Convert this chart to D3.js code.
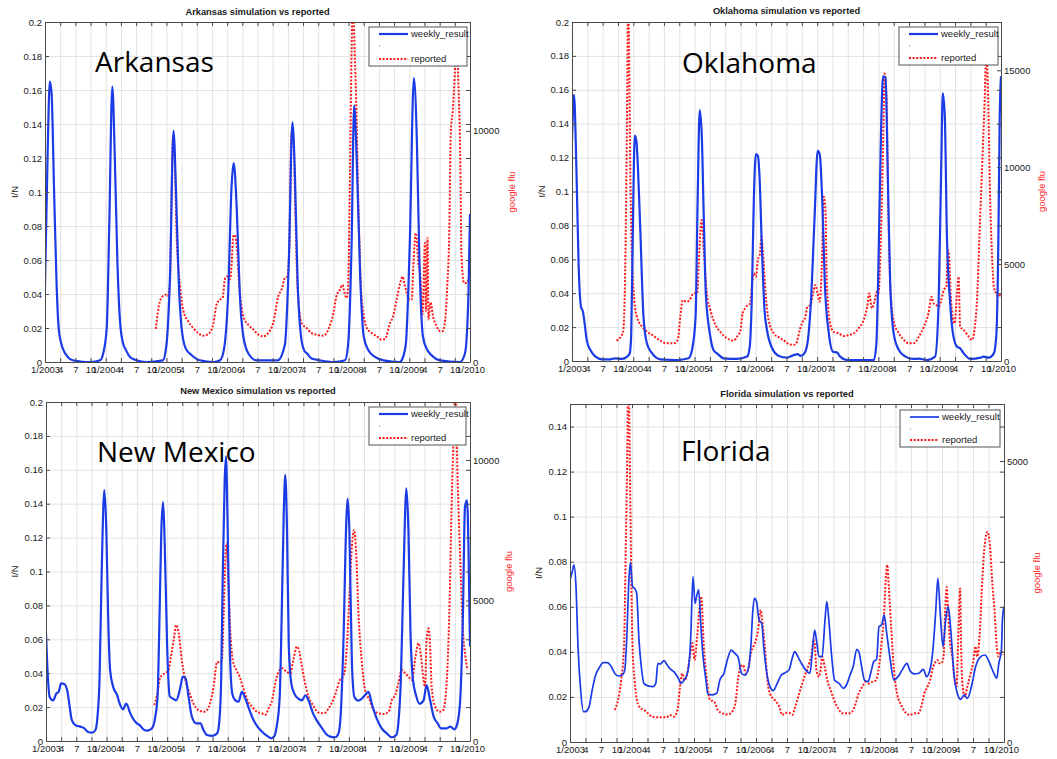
<!DOCTYPE html>
<html>
<head>
<meta charset="utf-8">
<script src="https://cdn.jsdelivr.net/npm/d3@7"></script>
<style>
  html, body { margin: 0; padding: 0; background: #fff; }
  svg { display: block; }
  text { font-family: "Liberation Sans", Arial, sans-serif; }
</style>
</head>
<body>
<svg id="chart" width="1057" height="759"></svg>
<script>
// ---- x axis: months since January 2003, quarterly ticks ----
const xTickMonths = [0,3,6,9,12,15,18,21,24,27,30,33,36,39,42,45,48,51,54,57,60,63,66,69,72,75,78,81,84];
const xTickLabels = ["1/2003","4","7","10","1/2004","4","7","10","1/2005","4","7","10","1/2006","4","7","10",
                     "1/2007","4","7","10","1/2008","4","7","10","1/2009","4","7","10","1/2010"];
const yTicksFull = [0,0.02,0.04,0.06,0.08,0.1,0.12,0.14,0.16,0.18,0.2];
const yTicksFlorida = [0,0.02,0.04,0.06,0.08,0.1,0.12,0.14];

// ---- simulated I/N (weekly_result): [month, value] ----
const arkansasSim = [[0,0.045],[0.5,0.12],[0.95,0.165],[1.3,0.158],[1.8,0.1],[2.3,0.045],[2.7,0.02],[3.2,0.011],[3.8,0.006],[4.5,0.003],[5.5,0.001],[7,0.0003],[9,0],[10.9,0.001],[11.5,0.005],[12.2,0.02],[12.7,0.08],[13.3,0.162],[13.8,0.12],[14.3,0.06],[14.8,0.025],[15.35,0.012],[16,0.007],[16.8,0.003],[18.1,0.001],[20,0],[23.3,0.001],[24,0.01],[24.7,0.05],[25.4,0.136],[25.9,0.1],[26.4,0.05],[27,0.02],[27.8,0.008],[29,0.004],[30.6,0.001],[33.3,0],[34.6,0.001],[35.4,0.008],[36.2,0.04],[36.9,0.105],[37.3,0.117],[37.9,0.09],[38.5,0.04],[39.2,0.015],[40.2,0.005],[41.8,0.001],[43.8,0.001],[46,0.001],[47.4,0.01],[48.2,0.06],[48.9,0.141],[49.4,0.11],[49.9,0.05],[50.6,0.015],[51.2,0.007],[51.8,0.005],[52.7,0.002],[54.3,0.001],[57,0],[59.3,0.001],[59.9,0.01],[60.6,0.07],[61.1,0.151],[61.6,0.12],[62.3,0.05],[63,0.015],[63.9,0.007],[65.2,0.003],[66.9,0.001],[70.2,0],[70.5,0.001],[71.3,0.01],[72.1,0.07],[72.9,0.167],[73.5,0.13],[74,0.06],[74.7,0.015],[75.4,0.008],[76.4,0.004],[78.1,0.001],[82,0],[83,0.005],[83.7,0.04],[84,0.087]];

const oklahomaSim = [[0,0.13],[0.4,0.157],[0.85,0.115],[1.3,0.056],[1.76,0.032],[2.15,0.029],[2.4,0.024],[2.9,0.012],[3.6,0.0065],[4.6,0.0026],[5.9,0.001],[7.5,0.001],[8.5,0.0016],[9.8,0.0012],[10.8,0.0026],[11.3,0.0045],[11.6,0.016],[11.9,0.075],[12.3,0.133],[12.6,0.13],[12.9,0.115],[13.4,0.075],[14,0.026],[14.7,0.01],[15.7,0.0045],[17.3,0.001],[20.6,0.0006],[22.8,0.0016],[23.5,0.0065],[24.2,0.026],[24.6,0.095],[25,0.148],[25.4,0.134],[25.8,0.085],[26.2,0.04],[27,0.016],[27.7,0.0065],[28.4,0.0045],[29.7,0.0016],[32.3,0.0012],[34.3,0.0026],[34.8,0.0084],[35.2,0.036],[35.6,0.095],[36,0.122],[36.4,0.121],[36.7,0.11],[37.2,0.065],[37.7,0.03],[38.2,0.018],[39.2,0.0075],[40.5,0.003],[42.1,0.002],[43.4,0.0035],[44.2,0.004],[44.8,0.003],[45.5,0.0045],[46.1,0.0104],[46.8,0.036],[47.5,0.085],[48.1,0.124],[48.5,0.122],[49,0.095],[49.5,0.046],[50.3,0.016],[51.1,0.0055],[51.9,0.005],[52.5,0.0026],[53.9,0.0006],[59.1,0.0006],[59.6,0.0104],[60,0.056],[60.5,0.134],[60.9,0.168],[61.4,0.167],[61.8,0.115],[62.3,0.046],[63,0.016],[64,0.0065],[65.3,0.0026],[66.9,0.0012],[67.9,0.0014],[69.5,0.0006],[71.1,0.0026],[71.8,0.036],[72.3,0.115],[72.6,0.158],[73,0.144],[73.4,0.075],[74,0.036],[74.6,0.016],[75.4,0.0084],[76,0.0075],[76.7,0.0045],[78,0.0012],[80,0.002],[80.6,0.0026],[81.6,0.002],[82.6,0.0045],[83.1,0.016],[83.5,0.075],[83.75,0.144],[84,0.168]];

const newMexicoSim = [[0,0.0635],[0.33,0.04],[0.73,0.026],[1.4,0.024],[2.05,0.028],[2.5,0.029],[3,0.034],[3.6,0.0336],[4.2,0.03],[4.7,0.02],[5.1,0.0124],[5.8,0.0094],[6.8,0.0085],[7.6,0.0075],[8.25,0.0055],[9.1,0.0049],[9.8,0.0065],[10.2,0.0144],[10.6,0.036],[11,0.095],[11.55,0.148],[11.95,0.1245],[12.3,0.075],[12.7,0.042],[13.3,0.032],[14.1,0.027],[14.6,0.022],[15.25,0.0187],[15.9,0.022],[16.7,0.0163],[17.4,0.0124],[18,0.0104],[18.55,0.0094],[19.3,0.0069],[20.1,0.0061],[21,0.0075],[21.65,0.0144],[22.1,0.026],[22.5,0.075],[22.85,0.1245],[23.2,0.141],[23.5,0.1186],[24,0.0557],[24.5,0.0265],[25.15,0.025],[25.8,0.024],[26.5,0.03],[27.1,0.038],[27.65,0.037],[28.25,0.026],[28.9,0.0144],[29.8,0.0104],[30.6,0.0104],[31.2,0.0065],[31.9,0.0035],[32.9,0.003],[33.9,0.0045],[34.3,0.0104],[34.7,0.036],[35,0.095],[35.4,0.154],[35.65,0.168],[36,0.1245],[36.4,0.0557],[36.9,0.028],[37.5,0.024],[38.15,0.0232],[38.8,0.029],[39.5,0.025],[40.3,0.0183],[41.1,0.0124],[41.9,0.0085],[42.8,0.0055],[43.8,0.003],[44.6,0.0016],[45.2,0.0026],[45.7,0.0085],[46.3,0.026],[46.7,0.075],[47.1,0.134],[47.4,0.157],[47.75,0.1245],[48.1,0.0557],[48.6,0.034],[49.2,0.028],[50,0.025],[50.7,0.024],[51.4,0.027],[52,0.024],[52.9,0.0163],[53.8,0.0114],[54.7,0.0075],[55.5,0.0041],[56.3,0.0026],[57.3,0.0022],[57.95,0.0045],[58.4,0.0163],[58.9,0.0557],[59.5,0.13],[59.75,0.143],[60.1,0.1245],[60.6,0.046],[61.1,0.026],[61.9,0.0238],[62.9,0.026],[63.9,0.029],[64.55,0.022],[65.5,0.0134],[66.5,0.0075],[67.5,0.0045],[68.5,0.0022],[69.4,0.0035],[69.8,0.0104],[70.3,0.036],[70.8,0.095],[71.4,0.149],[71.8,0.1245],[72.2,0.0655],[72.7,0.036],[73.3,0.027],[74,0.022],[74.8,0.024],[75.4,0.033],[76.1,0.024],[76.8,0.0144],[77.6,0.0104],[78.2,0.0075],[79.4,0.0075],[80.1,0.0085],[80.9,0.0069],[81.5,0.0104],[82.05,0.024],[82.6,0.075],[83,0.138],[83.4,0.142],[83.7,0.1146],[84,0.0557]];

const floridaSim = [[0,0.0719],[0.45,0.0756],[0.77,0.0786],[1.16,0.069],[1.55,0.0423],[2.06,0.0231],[2.6,0.0135],[3,0.0135],[3.7,0.0157],[4.3,0.0231],[4.97,0.0297],[5.6,0.0327],[6.45,0.0352],[7.2,0.0352],[8,0.0334],[8.65,0.0305],[9.3,0.0293],[10.1,0.0297],[10.6,0.032],[10.97,0.0453],[11.4,0.0719],[11.7,0.0796],[12.1,0.069],[12.5,0.0682],[12.9,0.066],[13.35,0.0453],[13.8,0.0334],[14.3,0.026],[15.1,0.0249],[16.1,0.0246],[16.6,0.026],[17,0.0349],[17.5,0.0346],[18.2,0.0361],[18.8,0.0342],[19.5,0.0322],[20.1,0.0312],[20.9,0.0286],[21.5,0.026],[22.1,0.0275],[22.6,0.0297],[23,0.0342],[23.35,0.0453],[23.8,0.0734],[24.2,0.0615],[24.5,0.0645],[24.9,0.0675],[25.3,0.0527],[25.7,0.0393],[26.3,0.0275],[26.7,0.0213],[27.5,0.0209],[28.4,0.0216],[29,0.0275],[29.8,0.0305],[30.45,0.0364],[31.2,0.0408],[31.9,0.0393],[32.5,0.0379],[33.2,0.0305],[33.8,0.0297],[34.45,0.032],[35,0.0423],[35.35,0.0571],[35.7,0.0638],[36.1,0.0623],[36.6,0.0541],[37.1,0.0527],[37.5,0.0423],[38.1,0.0305],[38.7,0.0246],[39.35,0.0228],[40.1,0.026],[40.9,0.0297],[41.7,0.0308],[42.4,0.032],[43,0.0371],[43.5,0.0401],[44.1,0.0379],[44.8,0.0349],[45.6,0.032],[46.45,0.0305],[46.9,0.0401],[47.35,0.0497],[47.7,0.0453],[48.2,0.0379],[48.8,0.0379],[49.35,0.0541],[49.7,0.0623],[50.1,0.0541],[50.6,0.0393],[51.2,0.0275],[52.1,0.026],[52.9,0.0238],[53.5,0.0253],[54.2,0.0297],[54.8,0.0334],[55.5,0.0411],[55.9,0.0401],[56.45,0.0334],[57,0.0275],[57.7,0.0268],[58.2,0.0305],[58.8,0.0357],[59.35,0.0367],[59.8,0.0512],[60.3,0.0519],[60.8,0.0564],[61.3,0.0482],[61.9,0.0379],[62.7,0.0275],[63.5,0.029],[64.3,0.032],[65.2,0.0349],[65.8,0.0317],[66.6,0.0302],[67.5,0.0305],[68.4,0.0322],[69,0.029],[69.8,0.0334],[70.3,0.0423],[70.8,0.0586],[71.2,0.0726],[71.7,0.0556],[72.2,0.0423],[72.7,0.0541],[73.2,0.0601],[73.7,0.0497],[74.3,0.0305],[74.95,0.0216],[75.6,0.0189],[76.3,0.0209],[76.9,0.0194],[77.7,0.0246],[78.5,0.0334],[79.5,0.0379],[80.3,0.0386],[81.1,0.0357],[81.9,0.0312],[82.6,0.0283],[83,0.0349],[83.5,0.0408],[83.7,0.0541],[84,0.06]];

// ---- reported Google Flu Trends counts: [month, value] ----
const arkansasFlu = [[21.9,1430],[22.7,2620],[23.4,2870],[23.85,2910],[24.2,2840],[24.7,3420],[25,7020],[25.3,9760],[25.6,9040],[26,5580],[26.7,3270],[27.3,2260],[28.3,1760],[29.3,1470],[30.3,1250],[31.3,1140],[32.3,1210],[33.3,1690],[33.9,2480],[34.6,2700],[35.1,2770],[35.6,3630],[36,3700],[36.6,3590],[36.9,4280],[37.2,5430],[37.5,5500],[37.9,5000],[38.4,3270],[39.2,1970],[40.2,1610],[41.2,1400],[42.2,1180],[43.1,1110],[44.1,1250],[45.1,1690],[46.1,2840],[46.8,3160],[47.4,3630],[47.9,3700],[48.3,5000],[48.7,9900],[49.1,9610],[49.5,6300],[49.9,3270],[50.7,1690],[51.7,1470],[52.7,1250],[53.7,1180],[55,1140],[56,1400],[57,2120],[57.6,2840],[58.3,3130],[58.8,3340],[59.2,2980],[59.6,2770],[59.9,3270],[60.3,8460],[60.6,13500],[60.85,16000],[61.1,14200],[61.5,11340],[62,6300],[62.6,2700],[63.6,1470],[64.6,1250],[65.6,1110],[66.5,965],[67.2,995],[68.2,1690],[68.8,1970],[69.5,2700],[70.2,3420],[70.7,3700],[71,3420],[71.5,2980],[72,2700],[72.5,2700],[72.8,4140],[73.3,5580],[73.8,4280],[74.2,3680],[74.6,2060],[75.1,5150],[75.3,2210],[75.6,5370],[75.8,1840],[76.2,2580],[76.7,1970],[77.4,1540],[78.1,1330],[78.6,1330],[79.1,1830],[79.5,3270],[79.9,5580],[80.2,9900],[80.6,10900],[81,12500],[81.3,14000],[81.7,12060],[82.1,8460],[82.3,4710],[82.8,3420],[83.3,3420],[83.7,3560]];

const oklahomaFlu = [[8.7,1050],[9.3,1170],[10,1510],[10.3,3140],[10.6,8300],[10.8,13450],[11,19000],[11.2,15170],[11.4,10020],[11.7,5720],[12.2,3140],[12.7,2290],[13.7,1770],[14.7,1510],[15.7,1340],[16.6,1170],[17.6,1000],[18.6,910],[19.9,910],[20.7,1080],[21.2,2290],[21.7,3140],[22.4,3060],[23,3140],[23.5,3400],[24,3490],[24.5,3490],[24.8,4860],[25.1,6580],[25.4,7270],[25.8,5720],[26.4,3490],[27.1,2630],[28.1,1860],[29,1510],[30.4,1170],[31.7,1050],[32.3,1250],[33,1600],[33.4,2460],[33.9,2720],[34.4,2890],[34.9,2970],[35.2,3830],[35.6,4520],[36,4350],[36.4,5210],[36.8,5550],[37.1,6410],[37.4,5550],[37.9,3490],[38.5,2110],[39.5,1430],[40.5,1220],[41.4,1080],[42.4,880],[43.4,830],[43.9,910],[44.6,1600],[45,1940],[45.7,2290],[46.1,2800],[46.7,2890],[47.2,3490],[47.6,3920],[48.1,3490],[48.5,3060],[48.9,4860],[49.3,8470],[49.6,7960],[49.9,4000],[50.6,1860],[51.2,1510],[52.2,1430],[53.2,1290],[54.2,1340],[55.2,1430],[56.1,1680],[57.1,2110],[57.8,2800],[58.2,3490],[58.7,2720],[59.2,3060],[59.7,3570],[60,3490],[60.5,6580],[60.9,10880],[61.2,14830],[61.6,13450],[61.9,8300],[62.3,4000],[63,2030],[64,1430],[65,1080],[65.9,910],[66.9,910],[67.9,1250],[68.9,1770],[69.8,2460],[70.4,3320],[70.8,2970],[71.3,2890],[71.8,2800],[72.3,3140],[72.8,3660],[73.3,3830],[73.6,5720],[73.8,5550],[74.2,3140],[74.9,1940],[75.4,3490],[75.7,4350],[76,1770],[76.7,1600],[77.7,1250],[78.3,1080],[78.8,1600],[79.3,3140],[79.8,6580],[80.3,10020],[80.8,13450],[81.1,15800],[81.5,13450],[81.8,9160],[82.2,5720],[82.6,3830],[83.1,3490],[83.6,3320],[83.9,3490]];

const newMexicoFlu = [[21.45,1280],[22,1640],[22.5,2170],[23,2350],[23.6,2410],[24.3,2530],[24.75,3000],[25.3,3590],[25.8,4130],[26.3,3830],[26.9,2880],[27.6,2170],[28.45,1700],[29.2,1340],[30.2,1100],[31.2,1040],[31.9,1100],[32.5,1340],[33.2,1930],[33.9,2820],[34.4,2790],[34.85,2880],[35.2,4540],[35.5,6320],[35.8,7030],[36.1,5730],[36.5,3950],[37,2880],[37.7,2530],[38.35,2290],[39.1,1870],[39.9,1460],[40.8,1220],[41.8,1040],[42.8,985],[43.4,925],[44.1,1160],[44.8,1460],[45.4,2050],[46.3,2530],[46.9,2590],[47.6,2470],[48.4,2410],[49,2880],[49.7,3360],[50,3300],[50.6,2760],[51.2,2170],[52,1580],[52.9,1280],[54,1010],[55,985],[56,1160],[56.9,1460],[57.6,1820],[58.2,2170],[58.6,2230],[59.1,2410],[59.6,3360],[60.1,5140],[60.6,6920],[61.05,7510],[61.45,6680],[61.9,4540],[62.6,2760],[63.2,1820],[64.1,1460],[64.9,1100],[65.9,985],[66.9,960],[67.9,1040],[68.5,1460],[69.2,1640],[69.8,2050],[70.5,2530],[71.2,2410],[71.8,2290],[72.5,2170],[73.2,3000],[73.8,3480],[74.3,3000],[74.8,2170],[75.1,1930],[75.4,3590],[75.8,4010],[76.1,3360],[76.4,1930],[77.1,1220],[78,1040],[78.7,1100],[79.4,2170],[79.9,4540],[80.4,8700],[80.8,11070],[81.15,13000],[81.4,10470],[81.75,8100],[82.1,6320],[82.6,3950],[83.1,3000],[83.5,2530]];

const floridaFlu = [[8.65,570],[9.3,750],[9.9,1100],[10.45,1700],[10.8,3480],[11.1,5260],[11.3,7000],[11.5,5550],[11.7,4070],[12.1,1700],[12.5,1100],[13,720],[13.7,600],[14.3,570],[15.1,510],[15.9,450],[16.9,440],[17.9,440],[18.7,440],[19.35,480],[20.1,450],[20.8,570],[21.3,985],[21.7,1220],[22.2,1100],[22.7,1220],[23.2,1520],[23.7,1760],[24.1,1460],[24.6,1870],[25.1,2410],[25.4,2590],[25.9,1700],[26.5,1100],[27.1,750],[27.9,720],[28.6,570],[29.5,510],[30.5,490],[31.4,540],[32.1,750],[32.5,1100],[33,1340],[33.5,1370],[34,1220],[34.45,1280],[35,1580],[35.5,1700],[35.9,1790],[36.4,1990],[36.9,2350],[37.2,2170],[37.7,1700],[38.2,1100],[38.8,840],[39.6,750],[40.5,630],[41.1,480],[41.7,520],[42.4,520],[43,480],[43.6,630],[44.3,840],[44.95,1040],[45.6,1220],[46.3,1400],[46.8,1580],[47.1,1820],[47.35,1760],[47.7,1280],[48.2,1160],[48.5,1280],[48.8,1520],[49.3,1340],[49.8,1100],[50.45,925],[51.1,750],[51.9,600],[52.7,510],[53.4,510],[54,510],[54.6,540],[55.3,690],[55.9,870],[56.6,985],[57.2,1070],[57.9,1040],[58.5,1070],[59.2,1100],[59.8,1340],[60.3,1760],[60.8,2290],[61.1,2880],[61.4,3150],[61.7,2760],[62.2,1990],[62.7,1280],[63.35,840],[64.1,660],[65,520],[65.8,480],[66.6,510],[67.4,510],[68,630],[68.6,870],[69.2,985],[69.7,1100],[70.1,1280],[70.6,1400],[71.1,1460],[71.5,1400],[71.9,1400],[72.3,1520],[72.6,2290],[72.9,2760],[73.2,2290],[73.5,1820],[74,1520],[74.45,1100],[74.8,985],[75.1,1700],[75.5,2730],[75.7,1700],[75.9,1100],[76.4,810],[76.9,985],[77.55,1220],[78,1400],[78.5,1700],[78.8,1520],[79.3,1930],[79.8,2880],[80.3,3540],[80.8,3740],[81.3,3480],[81.7,2880],[82.2,2290],[82.6,1700],[82.9,1520],[83.4,1610],[83.9,1550]];

const fluTicksArkansas = [0, 10000];
const fluTicksOklahoma = [0, 5000, 10000, 15000];
const fluTicksNewMexico = [0, 5000, 10000];
const fluTicksFlorida = [0, 5000];

// ---- panel layout ----
const panels = [
  { title: "Arkansas simulation vs reported", state: "Arkansas", sim: arkansasSim, flu: arkansasFlu,
    left: 45, right: 470, top: 22, bottom: 362, yMax: 0.2, yTicks: yTicksFull, fluMax: 14712, fluTicks: fluTicksArkansas,
    titleY: 15, stateX: 95, stateY: 72, legendX: 369, legendY: 27, legendW: 98, legendH: 39, lw: 2.2,
    yLabelX: 15, fluLabelX: 512 },
  { title: "Oklahoma simulation vs reported", state: "Oklahoma", sim: oklahomaSim, flu: oklahomaFlu,
    left: 572, right: 1001, top: 22, bottom: 361, yMax: 0.2, yTicks: yTicksFull, fluMax: 17490, fluTicks: fluTicksOklahoma,
    titleY: 14, stateX: 682, stateY: 73, legendX: 899, legendY: 27, legendW: 99, legendH: 38, lw: 2.2,
    yLabelX: 542, fluLabelX: 1042 },
  { title: "New Mexico simulation vs reported", state: "New Mexico", sim: newMexicoSim, flu: newMexicoFlu,
    left: 46, right: 470, top: 402, bottom: 741, yMax: 0.2, yTicks: yTicksFull, fluMax: 12064, fluTicks: fluTicksNewMexico,
    titleY: 394, stateX: 97, stateY: 462, legendX: 369, legendY: 407, legendW: 97, legendH: 38, lw: 2.2,
    yLabelX: 15, fluLabelX: 509 },
  { title: "Florida simulation vs reported", state: "Florida", sim: floridaSim, flu: floridaFlu,
    left: 570, right: 1004, top: 404, bottom: 742, yMax: 0.15, yTicks: yTicksFlorida, fluMax: 6014, fluTicks: fluTicksFlorida,
    titleY: 397, stateX: 681, stateY: 461, legendX: 900, legendY: 410, legendW: 100, legendH: 37, lw: 1.7,
    yLabelX: 539, fluLabelX: 1037 }
];

const svg = d3.select("#chart");
const fmtY = d => d === 0 ? "0" : String(+d.toFixed(2));
const axisColor = "#4a4a4a";
const gridColor = "#e3e3e3";

panels.forEach((p, idx) => {
  const g = svg.append("g");
  const x = d3.scaleLinear().domain([0, 84]).range([p.left, p.right]);
  const y = d3.scaleLinear().domain([0, p.yMax]).range([p.bottom, p.top]);
  const yFlu = d3.scaleLinear().domain([0, p.fluMax]).range([p.bottom, p.top]);
  const w = p.right - p.left, h = p.bottom - p.top;

  // grid
  g.append("g").attr("transform", `translate(0,${p.bottom})`)
    .call(d3.axisBottom(x).tickValues(xTickMonths).tickSize(-h).tickFormat(""))
    .call(s => s.select(".domain").remove())
    .call(s => s.selectAll("line").attr("stroke", gridColor));
  g.append("g").attr("transform", `translate(${p.left},0)`)
    .call(d3.axisLeft(y).tickValues(p.yTicks).tickSize(-w).tickFormat(""))
    .call(s => s.select(".domain").remove())
    .call(s => s.selectAll("line").attr("stroke", gridColor));

  // clipped series
  const clipId = "clip" + idx;
  svg.append("clipPath").attr("id", clipId)
    .append("rect").attr("x", p.left).attr("y", p.top).attr("width", w).attr("height", h);
  const plot = g.append("g").attr("clip-path", `url(#${clipId})`);

  const simLine = d3.line().x(d => x(d[0])).y(d => y(d[1])).curve(d3.curveMonotoneX);
  const fluLine = d3.line().x(d => x(d[0])).y(d => yFlu(d[1])).curve(d3.curveMonotoneX);

  plot.append("path").datum(p.flu).attr("d", fluLine)
    .attr("fill", "none").attr("stroke", "#ff1a1a").attr("stroke-width", 2)
    .attr("stroke-dasharray", "2,1.6");
  plot.append("path").datum(p.sim).attr("d", simLine)
    .attr("fill", "none").attr("stroke", "#1a3be6").attr("stroke-width", p.lw)
    .attr("stroke-linejoin", "round");

  // axes with inward ticks (box style)
  const styleAxis = s => {
    s.select(".domain").attr("stroke", axisColor);
    s.selectAll(".tick line").attr("stroke", axisColor);
    s.selectAll("text").attr("fill", "#1a1a1a").style("font-size", "9.5px")
      .style("font-family", '"Liberation Sans", Arial, sans-serif');
  };
  g.append("g").attr("transform", `translate(0,${p.bottom})`)
    .call(d3.axisBottom(x).tickValues(xTickMonths).tickFormat((d, i) => xTickLabels[i])
      .tickSizeInner(-4).tickSizeOuter(0).tickPadding(4))
    .call(styleAxis);
  g.append("g").attr("transform", `translate(0,${p.top})`)
    .call(d3.axisTop(x).tickValues(xTickMonths).tickFormat("").tickSizeInner(-4).tickSizeOuter(0))
    .call(styleAxis);
  g.append("g").attr("transform", `translate(${p.left},0)`)
    .call(d3.axisLeft(y).tickValues(p.yTicks).tickFormat(fmtY).tickSizeInner(-4).tickSizeOuter(0).tickPadding(3))
    .call(styleAxis);
  g.append("g").attr("transform", `translate(${p.right},0)`)
    .call(d3.axisRight(y).tickValues(p.yTicks).tickFormat("").tickSizeInner(-4).tickSizeOuter(0))
    .call(styleAxis);
  g.append("g").attr("transform", `translate(${p.right},0)`)
    .call(d3.axisRight(yFlu).tickValues(p.fluTicks).tickFormat(d3.format("d")).tickSizeInner(-4).tickSizeOuter(0).tickPadding(3))
    .call(styleAxis)
    .call(s => s.select(".domain").remove());

  // title and axis labels
  g.append("text").attr("x", (p.left + p.right) / 2).attr("y", p.titleY)
    .attr("text-anchor", "middle").style("font-size", "9.3px").style("font-weight", "bold")
    .attr("fill", "#1a1a1a").text(p.title);
  g.append("text").attr("transform", `translate(${p.yLabelX},${(p.top + p.bottom) / 2}) rotate(-90)`)
    .attr("text-anchor", "middle").attr("dy", "0.35em").style("font-size", "9.5px")
    .attr("fill", "#1a1a1a").text("I/N");
  g.append("text").attr("transform", `translate(${p.fluLabelX},${(p.top + p.bottom) / 2}) rotate(-90)`)
    .attr("text-anchor", "middle").attr("dy", "0.35em").style("font-size", "9.5px")
    .attr("fill", "#ff2a2a").text("google flu");

  // legend
  const lg = g.append("g").attr("transform", `translate(${p.legendX},${p.legendY})`);
  lg.append("rect").attr("width", p.legendW).attr("height", p.legendH)
    .attr("fill", "#fff").attr("stroke", "#555").attr("stroke-width", 1);
  lg.append("line").attr("x1", 10).attr("x2", 39).attr("y1", 7).attr("y2", 7)
    .attr("stroke", "#1a3be6").attr("stroke-width", p.lw);
  lg.append("text").attr("x", 42).attr("y", 7).attr("dy", "0.35em").style("font-size", "9.5px")
    .attr("fill", "#1a1a1a").text("weekly_result");
  lg.append("line").attr("x1", 10).attr("x2", 11).attr("y1", 19).attr("y2", 19)
    .attr("stroke", "#33aa33").attr("stroke-width", 1);
  lg.append("line").attr("x1", 10).attr("x2", 39).attr("y1", p.legendH - 7).attr("y2", p.legendH - 7)
    .attr("stroke", "#ff1a1a").attr("stroke-width", 2).attr("stroke-dasharray", "2,1.6");
  lg.append("text").attr("x", 42).attr("y", p.legendH - 7).attr("dy", "0.35em").style("font-size", "9.5px")
    .attr("fill", "#1a1a1a").text("reported");

  // state name
  g.append("text").attr("x", p.stateX).attr("y", p.stateY)
    .style("font-family", '"Open Sans", "Noto Sans", sans-serif').style("font-size", "28px")
    .attr("fill", "#000").text(p.state);
});
</script>
</body>
</html>
